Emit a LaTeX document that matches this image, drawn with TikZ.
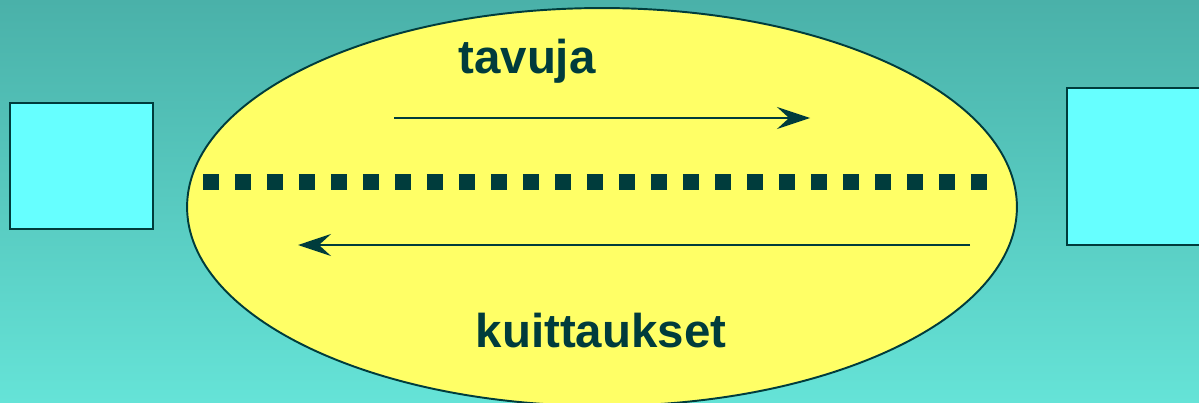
\documentclass[tikz,border=0pt]{standalone}
\usepackage{fontspec}
\setmainfont{Liberation Sans}
\usetikzlibrary{arrows.meta}
\definecolor{ink}{HTML}{003C3C}
\definecolor{bgtop}{HTML}{4AB1A9}
\definecolor{bgbot}{HTML}{65E3D7}
\definecolor{hostfill}{HTML}{66FFFF}
\definecolor{linkfill}{HTML}{FFFF66}
\tikzset{
  host/.style={draw=ink,fill=hostfill,line width=1.1pt},
  flow/.style={draw=ink,line width=1.1pt,-{Stealth[length=0.66cm,width=0.44cm,inset=0.24cm]}},
  label/.style={text=ink,font=\fontsize{27}{32}\selectfont\bfseries,anchor=base}
}
\begin{document}
\begin{tikzpicture}[x=0.02cm,y=-0.02cm]
  \useasboundingbox (0,0) rectangle (1199,402);
  \clip (0,0) rectangle (1199,402);
  \shade[top color=bgtop,bottom color=bgbot] (0,0) rectangle (1199,402);

  % end hosts
  \draw[host] (10,103) rectangle (153,229);
  \draw[host] (1067,88) rectangle (1215,245);

  % the link
  \draw[draw=ink,fill=linkfill,line width=1.1pt] (602,207) ellipse [x radius=8.3cm,y radius=3.98cm];
  \draw[ink,line width=0.32cm,dash pattern=on 0.32cm off 0.32cm] (203,182) -- (987,182);

  \coordinate (fwdA) at (394,118);
  \coordinate (fwdB) at (810,118);
  \coordinate (backA) at (970,245);
  \coordinate (backB) at (298,245);
  \draw[flow] (fwdA) -- (fwdB);
  \draw[flow] (backA) -- (backB);

  \node[label] (bytes) at (527,73) {tavuja};
  \node[label] (acks) at (601,347) {kuittaukset};
\end{tikzpicture}
\end{document}
